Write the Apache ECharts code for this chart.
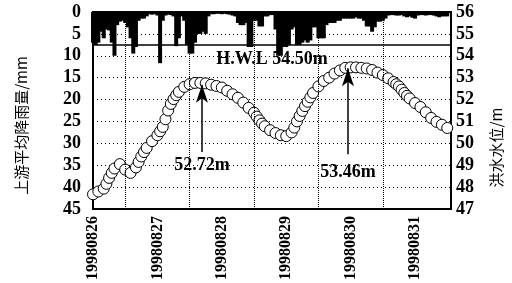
<!DOCTYPE html>
<html>
<head>
<meta charset="utf-8">
<script src="https://cdn.jsdelivr.net/npm/echarts@6/dist/echarts.min.js"></script>
<style>
html,body{margin:0;padding:0;background:#fff;}
#main{width:512px;height:283px;}
</style>
</head>
<body>
<div id="main"></div>
<script>
// 日期标签 (每24小时一个)
var dayLabels = ['19980826', '19980827', '19980828', '19980829', '19980830', '19980831'];

// 上游平均降雨量, 每小时 (mm), h0 ~ h132
var rainHours = [];
var rainMm = [7, 7.5, 7, 4.5, 6, 4, 4.2, 7, 10, 3, 2.2, 2, 2.5, 3.5, 6, 9.5, 8, 2, 1.5, 1.5,
    1, 0.5, 0.6, 0.5, 0.8, 11.7, 2, 0.8, 0.6, 0.7, 1, 7.8, 6, 1, 2, 7.5, 9.5, 9.5, 7, 5,
    5, 4.5, 5, 1, 0.5, 0.5, 0.4, 0.4, 0.5, 0.4, 0.5, 0.6, 0.8, 1, 2.5, 3, 3, 2.5, 8, 8,
    2, 2, 3.3, 3.3, 1, 1, 0.7, 0.7, 4, 10, 10, 8, 8, 7.5, 4, 3.5, 7.5, 7.5, 7, 6.5,
    7, 6.5, 3.5, 3.5, 6, 6, 6, 3, 2.5, 2.5, 2.5, 2, 2, 1.5, 1.5, 1.5, 1.5, 1.5, 1.2, 1.5,
    1.5, 2, 3.3, 3.3, 4.5, 3.5, 2.2, 2.2, 2, 1.5, 0.8, 0.7, 0.7, 0.8, 0.8, 0.7, 1, 1.2, 1, 1.3,
    1.5, 0.8, 0.7, 0.7, 0.8, 0.7, 0.7, 0.8, 1, 1.2, 1, 1, 1];
for (var i = 0; i < rainMm.length; i++) rainHours.push(i);

// 洪水水位 (m), 涨落快的时段加密
var levelHours = [0, 2, 4, 5, 6, 7, 8, 10, 12, 14, 16, 17, 18, 19, 20, 22, 24, 25, 26, 27,
    28, 29, 30, 31, 32, 34, 36, 38, 40, 42, 44, 46, 48, 50, 52, 54, 56, 58, 60, 61,
    62, 63, 64, 66, 68, 70, 72, 74, 75, 76, 77, 78, 79, 80, 81, 82, 84, 86, 88, 90,
    92, 94, 96, 98, 100, 102, 104, 106, 108, 110, 112, 113, 114, 115, 116, 117, 118, 120, 122, 124,
    126, 128, 130, 132];
var levelM = [47.67, 47.8, 47.93, 48.15, 48.42, 48.65, 48.85, 49.05, 48.8, 48.65, 48.9, 49.15, 49.4, 49.6, 49.79, 50.1, 50.37, 50.55, 50.75, 51.1,
    51.5, 51.8, 52.02, 52.2, 52.35, 52.58, 52.7, 52.76, 52.76, 52.74, 52.68, 52.62, 52.55, 52.4, 52.24, 52.08, 51.86, 51.62, 51.4, 51.22,
    51.05, 50.9, 50.78, 50.6, 50.47, 50.37, 50.33, 50.5, 50.72, 51.0, 51.25, 51.48, 51.7, 51.9, 52.1, 52.3, 52.6, 52.85, 53.0, 53.19,
    53.33, 53.45, 53.47, 53.47, 53.45, 53.42, 53.35, 53.23, 53.12, 52.97, 52.8, 52.7, 52.6, 52.45, 52.3, 52.17, 52.05, 51.84, 51.66, 51.42,
    51.16, 50.98, 50.85, 50.7];

// 标注
var hwl = 54.5;
var peak1 = {hour: 40.6, from: 49.6, to: 52.68, text: '52.72m', gap: 4};
var peak2 = {hour: 95, from: 49.5, to: 53.43, text: '53.46m', gap: 9};
var noonLines = [12, 36, 60, 84, 108];

var serif = 'Liberation Serif';
var cjk = 'Noto Sans CJK SC';

var myChart = echarts.init(document.getElementById('main'));

var rainData = rainHours.map(function (h, i) { return [h, rainMm[i]]; });
var levelData = levelHours.map(function (h, i) { return [h, levelM[i]]; });

function arrowLine(p) {
    return [
        {coord: [p.hour, p.from], label: {show: true, position: 'start', formatter: p.text, distance: p.gap}},
        {coord: [p.hour, p.to]}
    ];
}

var option = {
    animation: false,
    backgroundColor: '#fff',
    grid: {left: 93, right: 61, top: 12, bottom: 72, show: true, borderColor: '#000', borderWidth: 2},
    xAxis: {
        type: 'value',
        min: 0,
        max: 133.4,
        interval: 24,
        axisLine: {lineStyle: {color: '#000', width: 2}},
        axisTick: {show: false},
        splitLine: {show: false},
        axisLabel: {
            rotate: 90,
            margin: 7,
            color: '#000',
            fontFamily: serif,
            fontWeight: 'bold',
            fontSize: 16,
            formatter: function (v) {
                return v % 24 === 0 ? (dayLabels[v / 24] || '') : '';
            }
        }
    },
    yAxis: [
        {
            type: 'value',
            inverse: true,
            min: 0,
            max: 45,
            interval: 5,
            name: '上游平均降雨量/mm',
            nameLocation: 'middle',
            nameRotate: 90,
            nameGap: 64,
            nameTextStyle: {color: '#000', fontFamily: cjk, fontSize: 15, padding: [0, 30, 0, 0]},
            axisLine: {show: true, lineStyle: {color: '#000', width: 2}},
            axisTick: {show: false},
            splitLine: {show: true, lineStyle: {color: '#000', type: [1, 3], width: 1}},
            axisLabel: {color: '#000', fontFamily: serif, fontWeight: 'bold', fontSize: 18, margin: 12}
        },
        {
            type: 'value',
            position: 'right',
            min: 47,
            max: 56,
            interval: 1,
            name: '洪水水位/m',
            nameLocation: 'middle',
            nameRotate: 90,
            nameGap: 38,
            nameTextStyle: {color: '#000', fontFamily: cjk, fontSize: 15, padding: [0, 74, 0, 0]},
            axisLine: {show: true, lineStyle: {color: '#000', width: 2}},
            axisTick: {show: false},
            splitLine: {show: false},
            axisLabel: {color: '#000', fontFamily: serif, fontWeight: 'bold', fontSize: 18, margin: 5}
        }
    ],
    series: [
        {
            name: 'rain',
            type: 'bar',
            xAxisIndex: 0,
            yAxisIndex: 0,
            barWidth: 4,
            itemStyle: {color: '#000'},
            data: rainData,
            z: 2
        },
        {
            // 每日中午的竖向点线
            name: 'noon',
            type: 'line',
            xAxisIndex: 0,
            yAxisIndex: 1,
            data: [],
            z: 1,
            markLine: {
                silent: true,
                symbol: 'none',
                label: {show: false},
                lineStyle: {color: '#000', type: 'dotted', width: 1},
                data: noonLines.map(function (h) { return {xAxis: h}; })
            }
        },
        {
            name: 'level',
            type: 'scatter',
            xAxisIndex: 0,
            yAxisIndex: 1,
            symbol: 'circle',
            symbolSize: 11,
            itemStyle: {color: '#fff', borderColor: '#000', borderWidth: 1, opacity: 1},
            data: levelData,
            z: 3,
            markLine: {
                silent: true,
                symbol: ['none', 'arrow'],
                symbolSize: [9, 18],
                lineStyle: {color: '#000', type: 'solid', width: 1.5},
                label: {color: '#000', fontFamily: serif, fontWeight: 'bold', fontSize: 18},
                data: [
                    [
                        {coord: [0, hwl], symbol: 'none',
                         label: {show: true, position: 'insideMiddleBottom', formatter: 'H.W.L 54.50m', distance: 6}},
                        {coord: [133.4, hwl], symbol: 'none'}
                    ],
                    arrowLine(peak1),
                    arrowLine(peak2)
                ]
            }
        }
    ]
};
myChart.setOption(option);
</script>
</body>
</html>
